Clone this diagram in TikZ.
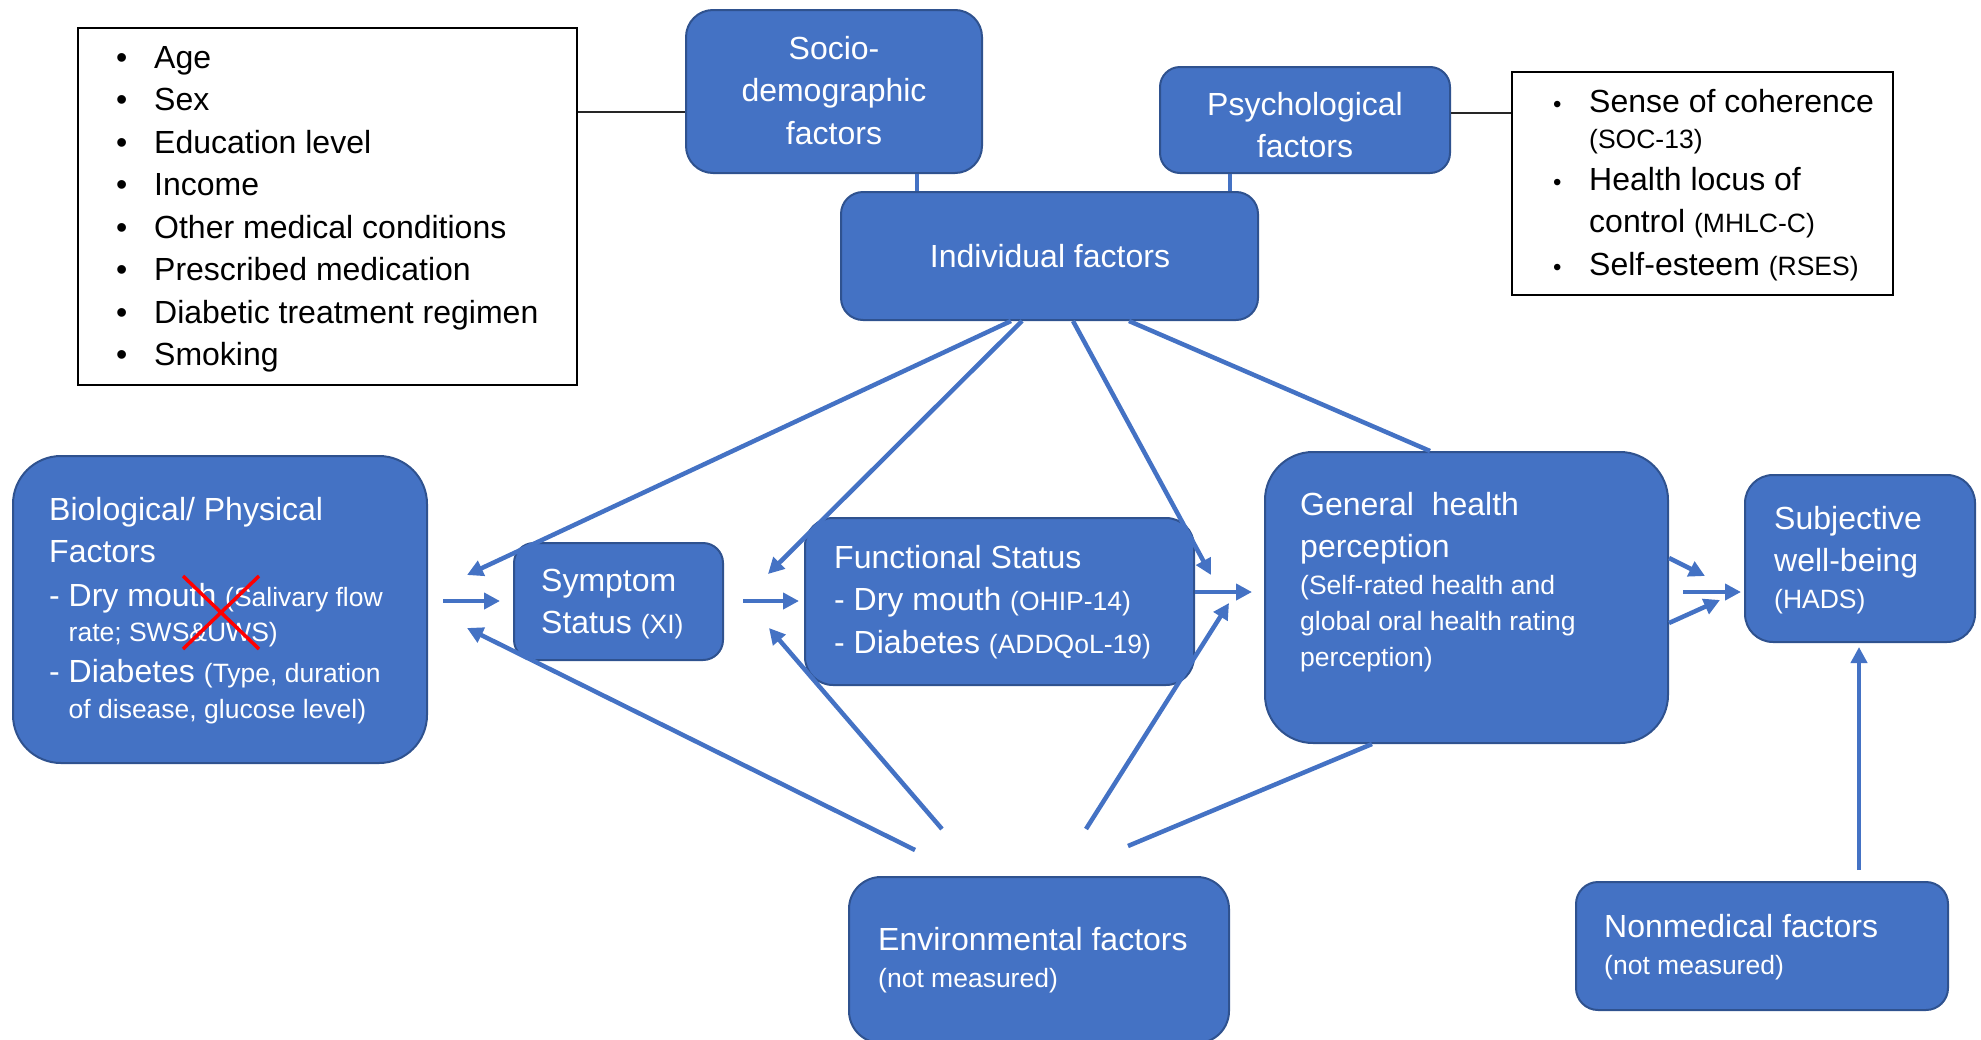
\documentclass[tikz,border=0pt]{standalone}
\usepackage{fontspec}
\setmainfont{Liberation Sans}
\usetikzlibrary{arrows.meta}
\definecolor{boxblue}{HTML}{4472C4}
\definecolor{boxedge}{HTML}{2F528F}
\newcommand\txtL{\fontsize{32}{42.5}\selectfont}
\newcommand\txtS{\fontsize{26.5}{36}\selectfont}
\newcommand\bul{\makebox[38pt][l]{\textbullet}}
\newcommand\sbul{\makebox[36pt][l]{\fontsize{24}{30}\selectfont\textbullet}}

\begin{document}
\begin{tikzpicture}[x=1pt,y=-1pt,
  box/.style={draw=boxedge,line width=2pt,fill=boxblue,inner sep=0pt,rectangle},
  listbox/.style={draw=black,line width=2pt,fill=white,inner sep=0pt,rectangle},
  lbl/.style={text=white,font=\txtL,inner sep=0pt,anchor=base west},
  dlbl/.style={text=black,font=\txtL,inner sep=0pt,anchor=base west},
  link/.style={draw=boxblue,line width=4.5pt},
  arr/.style={link,-{Triangle[length=16pt,width=16pt]}},
  tie/.style={draw=black!85,line width=1.8pt}]
\useasboundingbox (0,0) rectangle (1981,1039);

% ---------- boxes ----------
\node[listbox,minimum width=499pt,minimum height=357pt] (listL) at (327.5,206.5) {};
\node[box,rounded corners=27pt,minimum width=296pt,minimum height=163pt] (soc) at (834,91.5) {};
\node[box,rounded corners=20pt,minimum width=290pt,minimum height=106pt] (psy) at (1305,120) {};
\node[listbox,minimum width=381pt,minimum height=223pt] (listR) at (1702.5,183.5) {};
\node[box,rounded corners=22pt,minimum width=417pt,minimum height=128pt] (ind) at (1049.5,256) {};
\node[box,rounded corners=48pt,minimum width=414pt,minimum height=307pt] (bio) at (220,609.5) {};
\node[box,rounded corners=20pt,minimum width=209pt,minimum height=117pt] (sym) at (618.5,601.5) {};
\node[box,rounded corners=28pt,minimum width=389pt,minimum height=167pt] (fun) at (999.5,601.5) {};
\node[box,rounded corners=48pt,minimum width=403pt,minimum height=291pt] (gh) at (1466.5,597.5) {};
\node[box,rounded corners=28pt,minimum width=230pt,minimum height=167pt] (sw) at (1860,558.5) {};
\node[box,rounded corners=32pt,minimum width=380pt,minimum height=166pt] (env) at (1039,960) {};
\node[box,rounded corners=22pt,minimum width=372pt,minimum height=128pt] (nm) at (1762,946) {};

% ---------- texts ----------
\node[dlbl] (listLT) at (116,68) {\begin{tabular}[t]{@{}l@{}}
\bul Age\\ \bul Sex\\ \bul Education level\\ \bul Income\\
\bul Other medical conditions\\ \bul Prescribed medication\\
\bul Diabetic treatment regimen\\ \bul Smoking\end{tabular}};

\node[dlbl] (listRT) at (1553,112) {\begin{tabular}[t]{@{}l@{}}
\sbul Sense of coherence\\[-6pt]
\hspace{36pt}{\txtS (SOC-13)}\\[-1pt]
\sbul Health locus of\\
\hspace{36pt}control {\txtS (MHLC-C)}\\
\sbul Self-esteem {\txtS (RSES)}\end{tabular}};

\node[lbl,anchor=base] (socT) at (834,59) {\begin{tabular}[t]{@{}c@{}}
Socio-\\ demographic\\ factors\end{tabular}};
\node[lbl,anchor=base] (psyT) at (1305,115) {\begin{tabular}[t]{@{}c@{}}
Psychological\\ factors\end{tabular}};
\node[lbl,anchor=center] (indT) at (1050,256) {Individual factors};

\node[lbl] (bioT) at (49,520) {\begin{tabular}[t]{@{}l@{}}
Biological/ Physical\\
Factors\\[1.5pt]
- Dry mouth {\txtS (Salivary flow}\\[-7.5pt]
\hspace{19.5pt}{\txtS rate; SWS\&UWS)}\\[-1.5pt]
- Diabetes {\txtS (Type, duration}\\[-6.5pt]
\hspace{19.5pt}{\txtS of disease, glucose level)}\end{tabular}};

\node[lbl] (symT) at (541,591) {\begin{tabular}[t]{@{}l@{}}
Symptom\\ Status {\txtS (XI)}\end{tabular}};

\node[lbl] (funT) at (834,568) {\begin{tabular}[t]{@{}l@{}}
Functional Status\\
- Dry mouth {\txtS (OHIP-14)}\\
- Diabetes {\txtS (ADDQoL-19)}\end{tabular}};

\node[lbl] (ghT) at (1300,515) {\begin{tabular}[t]{@{}l@{}}
General\ \ health\\
perception\\[-5.5pt]
{\txtS (Self-rated health and}\\[-7pt]
{\txtS global oral health rating}\\[-6.5pt]
{\txtS perception)}\end{tabular}};

\node[lbl] (swT) at (1774,529) {\begin{tabular}[t]{@{}l@{}}
Subjective\\ well-being\\[-5.5pt] {\txtS (HADS)}\end{tabular}};

\node[lbl] (envT) at (878,950) {\begin{tabular}[t]{@{}l@{}}
Environmental factors\\[-5.5pt] {\txtS (not measured)}\end{tabular}};

\node[lbl] (nmT) at (1604,937) {\begin{tabular}[t]{@{}l@{}}
Nonmedical factors\\[-5.5pt] {\txtS (not measured)}\end{tabular}};

% crossed-out measurement in the biological box
\draw[red,line width=3.5pt] (183,576) -- (259,649) (259,576) -- (183,649);

% ---------- ties of the upper factor boxes ----------
\draw[tie] (listL.east |- 0,112) -- (soc.west |- 0,112);
\draw[tie] (psy.east |- 0,113) -- (listR.west |- 0,113);
\draw[link] (soc.south -| 917,0) -- (ind.north -| 917,0);
\draw[link] (psy.south -| 1230,0) -- (ind.north -| 1230,0);

% ---------- free ends of the arrows ----------
\coordinate (sBio) at (443,601);
\coordinate (tSym) at (500,601);
\coordinate (sSym) at (743,601);
\coordinate (tFun) at (799,601);
\coordinate (tGhM) at (1252,592);
\coordinate (tSwU) at (1705,576);
\coordinate (tSwM) at (1741,592);
\coordinate (tSwL) at (1720,600);
\coordinate (sSwM) at (1683,592);
\coordinate (tBioU) at (467,575);
\coordinate (tBioL) at (467,628);
\coordinate (tFunU) at (768,574);
\coordinate (tFunL) at (769,628);
\coordinate (tGhU) at (1211,575);
\coordinate (tGhL) at (1229,603);
\coordinate (eA) at (915,850);
\coordinate (eB) at (942,829);
\coordinate (eC) at (1086,829);
\coordinate (eD) at (1128,846);
\coordinate (nTop) at (1859,870);
\coordinate (tSwB) at (1859,647);

% ---------- causal chain ----------
\draw[arr] (sBio) -- (tSym);
\draw[arr] (sSym) -- (tFun);
\draw[arr] (fun.east |- tGhM) -- (tGhM);
\draw[arr] (gh.east |- 0,558) -- (tSwU);
\draw[arr] (sSwM) -- (tSwM);
\draw[arr] (gh.east |- 0,623) -- (tSwL);

% ---------- individual factors ----------
\draw[arr] (ind.south -| 1011,0) -- (tBioU);
\draw[arr] (ind.south -| 1022,0) -- (tFunU);
\draw[arr] (ind.south -| 1073,0) -- (tGhU);
\draw[link] (ind.south -| 1129,0) -- (gh.north -| 1430,0);

% ---------- environmental factors ----------
\draw[arr] (eA) -- (tBioL);
\draw[arr] (eB) -- (tFunL);
\draw[arr] (eC) -- (tGhL);
\draw[link] (eD) -- (gh.south -| 1372,0);

% ---------- nonmedical factors ----------
\draw[arr] (nTop) -- (tSwB);
\end{tikzpicture}
\end{document}
